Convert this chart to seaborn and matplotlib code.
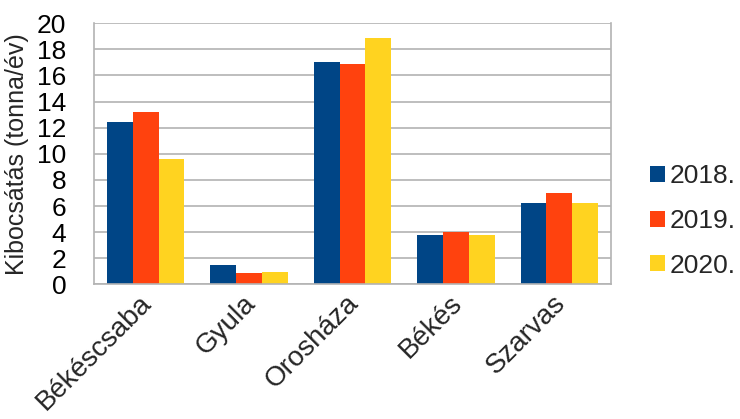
import matplotlib
matplotlib.use("Agg")
import matplotlib.pyplot as plt
import matplotlib.transforms as mtransforms
import seaborn as sns
import pandas as pd
import numpy as np
from matplotlib.patches import Patch

cities = ["Békéscsaba", "Gyula", "Orosháza", "Békés", "Szarvas"]
years = ["2018.", "2019.", "2020."]
v2018 = [12.4, 1.5, 17.0, 3.8, 6.2]
v2019 = [13.2, 0.9, 16.9, 4.0, 7.0]
v2020 = [9.6, 0.95, 18.9, 3.8, 6.2]
colors = ["#004586", "#ff420e", "#ffd320"]
ylabel = "Kibocsátás (tonna/év)"

df = pd.DataFrame({
    "city": cities * 3,
    "year": [years[0]] * 5 + [years[1]] * 5 + [years[2]] * 5,
    "value": v2018 + v2019 + v2020,
})

sns.set_style("white")
plt.rcParams["font.family"] = ["Liberation Sans", "DejaVu Sans"]

fig = plt.figure(figsize=(7.4, 4.19), dpi=100)
ax = fig.add_axes([94 / 740, 1 - 284.3 / 419, 517 / 740, 261 / 419])

sns.barplot(data=df, x="city", y="value", hue="year", palette=colors,
            width=0.75, saturation=1, linewidth=0, ax=ax, legend=False)

grid_c = "#b3b3b3"
ax.set_ylim(0, 20)
ax.set_xlim(-0.5, 4.5)
ax.set_yticks(np.arange(0, 21, 2))
ax.yaxis.grid(True, color=grid_c, linewidth=1.2)
ax.set_axisbelow(True)
for side in ["left", "right", "bottom"]:
    ax.spines[side].set_color(grid_c)
    ax.spines[side].set_linewidth(1.2)
ax.spines["top"].set_visible(False)

ax.tick_params(axis="y", which="major", length=8, width=1.2, color=grid_c,
               labelsize=19, pad=12, labelcolor="black")
ax.set_xticks(np.arange(-0.5, 5, 1), minor=True)
ax.tick_params(axis="x", which="minor", length=7, width=1.2, color=grid_c)
ax.tick_params(axis="x", which="major", length=0, pad=4)
ax.set_xticklabels(cities, rotation=45, ha="right", rotation_mode="anchor",
                   fontsize=20)
shift = mtransforms.ScaledTranslation(-0.07, 0, fig.dpi_scale_trans)
for lab in ax.get_xticklabels():
    lab.set_transform(lab.get_transform() + shift)
ax.set_xlabel("")
ax.set_ylabel(ylabel, fontsize=18, labelpad=6)

handles = [Patch(facecolor=c, edgecolor="none") for c in colors]
fig.legend(handles, years, loc="center left",
           bbox_to_anchor=(650 / 740, 1 - 221 / 419), frameon=False,
           fontsize=19, handlelength=0.55, handleheight=0.55,
           handletextpad=0.2, labelspacing=0.78, borderpad=0, borderaxespad=0)

fig.savefig("out.png", dpi=100)
